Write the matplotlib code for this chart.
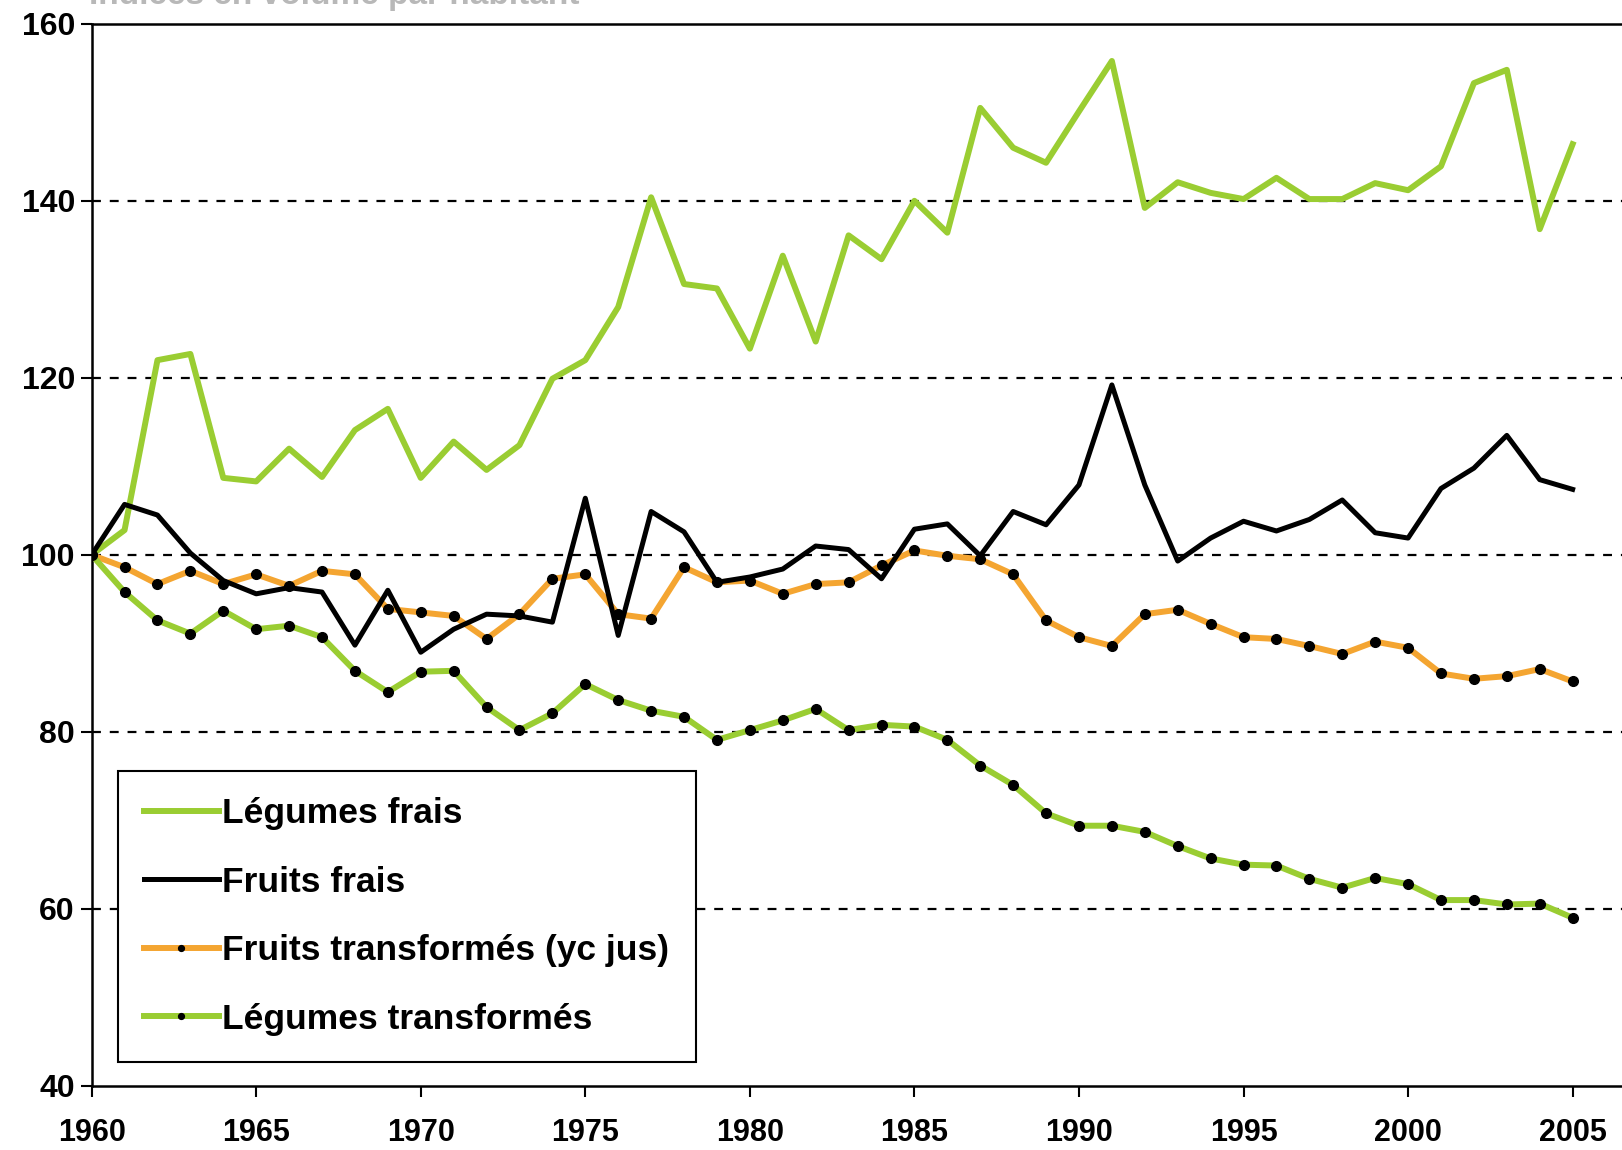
import numpy as np
import matplotlib.pyplot as plt

# Années
annees = np.arange(1960, 2006)

# Indices (base 100 en 1960)
legumes_frais = [100, 102.8, 122.0, 122.7, 108.7, 108.3, 112.0, 108.8, 114.1, 116.5,
                 108.7, 112.8, 109.6, 112.4, 119.9, 122.0, 128.0, 140.4, 130.6, 130.1,
                 123.3, 133.8, 124.1, 136.1, 133.4, 140.0, 136.4, 150.5, 146.0, 144.3,
                 150.1, 155.8, 139.2, 142.1, 140.9, 140.2, 142.6, 140.2, 140.2, 142.0,
                 141.2, 143.9, 153.3, 154.8, 136.8, 146.4]
fruits_frais = [100, 105.7, 104.5, 100.2, 97.1, 95.6, 96.3, 95.8, 89.8, 96.0,
                89.0, 91.6, 93.3, 93.1, 92.4, 106.4, 90.9, 104.9, 102.6, 96.9,
                97.5, 98.4, 101.0, 100.6, 97.3, 102.9, 103.5, 99.9, 104.9, 103.4,
                107.9, 119.2, 107.9, 99.3, 101.9, 103.8, 102.7, 104.0, 106.2, 102.5,
                101.9, 107.5, 109.8, 113.5, 108.5, 107.4]
fruits_transformes = [100, 98.6, 96.7, 98.2, 96.7, 97.8, 96.5, 98.2, 97.8, 93.9,
                      93.5, 93.1, 90.5, 93.3, 97.3, 97.8, 93.3, 92.8, 98.6, 96.9,
                      97.1, 95.6, 96.7, 96.9, 98.8, 100.5, 99.9, 99.5, 97.8, 92.6,
                      90.7, 89.7, 93.3, 93.8, 92.2, 90.7, 90.5, 89.7, 88.8, 90.2,
                      89.5, 86.6, 86.0, 86.3, 87.1, 85.7]
legumes_transformes = [100, 95.8, 92.6, 91.1, 93.7, 91.6, 92.0, 90.7, 86.9, 84.5,
                       86.8, 86.9, 82.8, 80.2, 82.1, 85.4, 83.6, 82.4, 81.7, 79.1,
                       80.2, 81.3, 82.6, 80.2, 80.8, 80.6, 79.1, 76.2, 74.0, 70.8,
                       69.4, 69.4, 68.7, 67.1, 65.7, 65.0, 64.9, 63.4, 62.4, 63.5,
                       62.8, 61.0, 61.0, 60.5, 60.6, 59.0]

vert = '#9ACD32'
orange = '#F4A531'

plt.rcParams['font.family'] = ['Liberation Sans', 'DejaVu Sans']
plt.rcParams['font.weight'] = 'bold'

fig = plt.figure(figsize=(16.22, 11.5), dpi=100)
ax = fig.add_axes([0.0565, 0.0557, 0.9435, 0.9236])

ax.plot(annees, legumes_frais, color=vert, lw=4.3, label='Légumes frais', zorder=3)
ax.plot(annees, fruits_frais, color='black', lw=3.6, label='Fruits frais', zorder=4)
ax.plot(annees, fruits_transformes, color=orange, lw=4.3, marker='o', ms=7,
        mfc='black', mec='black', label='Fruits transformés (yc jus)', zorder=3)
ax.plot(annees, legumes_transformes, color=vert, lw=4.3, marker='o', ms=7,
        mfc='black', mec='black', label='Légumes transformés', zorder=3)

ax.set_xlim(1960, 2006.5)
ax.set_ylim(40, 160)
ax.set_xticks(np.arange(1960, 2006, 5))
ax.set_yticks(np.arange(40, 161, 20))
for y in [60, 80, 100, 120, 140]:
    ax.axhline(y, color='black', lw=1.6, ls=(0, (4, 4)), zorder=1)

ax.spines['right'].set_visible(False)
for s in ['left', 'top', 'bottom']:
    ax.spines[s].set_linewidth(1.8)
ax.tick_params(axis='both', direction='out', length=8, width=1.5, labelsize=23)
ax.tick_params(axis='x', pad=15, labelsize=22)
ax.tick_params(axis='y', pad=4)

leg = ax.legend(loc='lower left', bbox_to_anchor=(0.017, 0.0224), fontsize=25.5,
                frameon=True, fancybox=False, edgecolor='black', framealpha=1,
                handlelength=2.1, handletextpad=0.1, labelspacing=1.0,
                borderpad=0.75, borderaxespad=0, markerscale=0.6)
leg.get_frame().set_linewidth(1.5)
leg.set_zorder(5)

# titre coupé en haut de l'image
fig.text(0.055, 0.9965, 'Indices en volume par habitant', fontsize=24, color='#b8b8b8',
         va='baseline', ha='left')

plt.savefig('out.png', dpi=100)
